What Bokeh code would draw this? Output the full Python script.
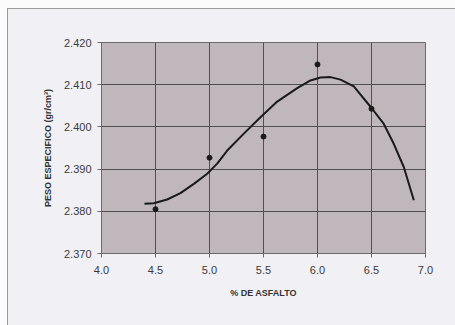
from bokeh.plotting import figure
from bokeh.models import Range1d, FixedTicker, NumeralTickFormatter, Title
from bokeh.embed import file_html
from bokeh.resources import INLINE

# measured points
asfalto = [4.5, 5.0, 5.5, 6.0, 6.5]
peso = [2.3805, 2.3927, 2.3977, 2.4148, 2.4043]

# trend curve
curve_x = [4.398, 4.484, 4.608, 4.731, 4.855, 4.979, 5.071, 5.164, 5.318, 5.472,
           5.627, 5.812, 5.935, 6.028, 6.120, 6.213, 6.336, 6.506,
           6.614, 6.706, 6.799, 6.892]
curve_y = [2.3818, 2.3819, 2.3828, 2.3843, 2.3865, 2.3889, 2.3913, 2.3944, 2.3984, 2.4023,
           2.4060, 2.4092, 2.4110, 2.4117, 2.4118, 2.4112, 2.4096, 2.4043,
           2.4007, 2.3960, 2.3905, 2.3826]

x_ticks = [4.0, 4.5, 5.0, 5.5, 6.0, 6.5, 7.0]
y_ticks = [2.370, 2.380, 2.390, 2.400, 2.410, 2.420]

FONT = "Liberation Sans"

p = figure(width=455, height=325, output_backend="svg", toolbar_location=None,
           x_range=Range1d(4.0, 7.0), y_range=Range1d(2.370, 2.420),
           min_border_left=101, min_border_right=30, min_border_top=42, min_border_bottom=72)
p.styles = {"background-color": "#f1f1f5",
            "box-shadow": "inset 7px 8px 0 #fbfbfb, inset 8px 9px 0 #9a9a9a"}
p.border_fill_alpha = 0
p.background_fill_color = "#bfb7bb"
p.outline_line_color = "#6a6a6a"
p.outline_line_width = 1

for ax in (p.xaxis[0], p.yaxis[0]):
    ax.axis_line_color = "#6a6a6a"
    ax.major_tick_line_color = "#6a6a6a"
    ax.major_tick_out = 4
    ax.major_tick_in = 0
    ax.minor_tick_line_color = None
    ax.major_label_text_font = FONT
    ax.major_label_text_font_size = "11px"
    ax.major_label_text_color = "#3a3a3a"

p.xaxis[0].ticker = FixedTicker(ticks=x_ticks)
p.yaxis[0].ticker = FixedTicker(ticks=y_ticks)
p.xaxis[0].formatter = NumeralTickFormatter(format="0.0")
p.yaxis[0].formatter = NumeralTickFormatter(format="0.000")
p.xaxis[0].major_label_standoff = 8
p.yaxis[0].major_label_standoff = 6

p.xgrid.ticker = FixedTicker(ticks=x_ticks)
p.ygrid.ticker = FixedTicker(ticks=y_ticks)
p.grid.grid_line_color = "#505050"
p.grid.grid_line_width = 1

p.line(curve_x, curve_y, line_color="#1a1a1a", line_width=2)
p.scatter(asfalto, peso, size=5, color="#1a1a1a")

p.add_layout(Title(text="% DE ASFALTO", align="center", offset=-15, standoff=18,
                   text_font=FONT, text_font_size="9px", text_font_style="bold",
                   text_color="#333333"), "below")
p.add_layout(Title(text="PESO ESPECIFICO (gr/cm³)", align="center", offset=16, standoff=15,
                   text_font=FONT, text_font_size="9px", text_font_style="bold",
                   text_color="#333333"), "left")

open("out.html", "w").write(file_html(p, INLINE))
